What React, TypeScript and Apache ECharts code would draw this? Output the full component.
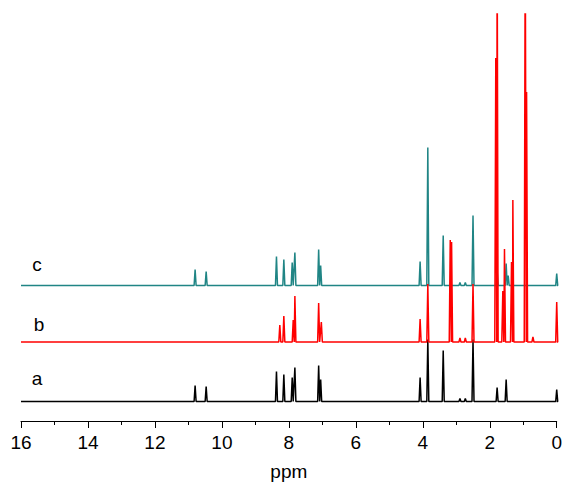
import React, { useEffect, useRef } from "react";
import * as echarts from "echarts";

// Spectrum labels and vertical offsets (intensity units)
const traceNames = ["a", "b", "c"];
const traceColors = ["#000000", "#ff0000", "#208585"];
const traceOffsets = [19.5, 79, 135.5];

// Trace a (black): peak positions (ppm) and heights
const ppmA = [10.8, 10.47, 8.37, 8.15, 7.9, 7.82, 7.11, 7.05, 4.08, 3.85, 3.39, 2.89, 2.73, 2.5, 1.78, 1.51, 0.0];
const intA = [16, 15, 30, 27, 24, 34, 36, 22, 24, 62, 51, 3, 3, 62, 14, 22, 12];

// Trace b (red)
const ppmB = [8.27, 8.15, 7.87, 7.82, 7.11, 7.03, 4.08, 3.85, 3.18, 3.14, 2.89, 2.73, 2.5, 1.82, 1.78, 1.61, 1.56, 1.35, 1.31, 0.94, 0.9, 0.71, 0.0];
const intB = [17, 26, 22, 46, 39, 20, 23, 58, 102, 100, 4, 4, 58, 284, 420, 51, 93, 80, 142, 420, 250, 5, 40];

// Trace c (teal)
const ppmC = [10.8, 10.47, 8.37, 8.15, 7.9, 7.82, 7.11, 7.05, 4.08, 3.85, 3.39, 2.89, 2.73, 2.5, 1.78, 1.51, 1.45, 0.0];
const intC = [16, 14, 29, 26, 23, 33, 36, 20, 24, 138, 50, 3, 3, 70, 15, 22, 10, 12];

// Axis ticks
const xMin = 0;
const xMax = 16;
const xInterval = 2;

const HALF_WIDTH = 0.03;

function buildTrace(ppm: number[], h: number[], offset: number): number[][] {
  const pts: number[][] = [[xMax, offset]];
  const order = ppm.map((_, i) => i).sort((i, j) => ppm[j] - ppm[i]);
  for (const i of order) {
    pts.push([ppm[i] + HALF_WIDTH, offset]);
    pts.push([ppm[i], offset + h[i]]);
    pts.push([ppm[i] - HALF_WIDTH, offset]);
  }
  pts.push([xMin, offset]);
  return pts;
}

export default function App() {
  const ref = useRef<HTMLDivElement>(null);
  useEffect(() => {
    if (!ref.current) return;
    const chart = echarts.init(ref.current, null, { renderer: "svg" });
    const traces = [
      buildTrace(ppmA, intA, traceOffsets[0]),
      buildTrace(ppmB, intB, traceOffsets[1]),
      buildTrace(ppmC, intC, traceOffsets[2]),
    ];
    const font = "'Liberation Sans', Arial, sans-serif";
    const labelPos = [
      [37, 378],
      [39, 324],
      [37, 264],
    ];
    chart.setOption({
      animation: false,
      backgroundColor: "#ffffff",
      grid: { left: 21, right: 6, top: 14, bottom: 67 },
      xAxis: {
        type: "value",
        min: xMin,
        max: xMax,
        interval: xInterval,
        inverse: true,
        name: "ppm",
        nameLocation: "middle",
        nameGap: 41,
        nameTextStyle: { fontSize: 19, color: "#000", fontFamily: font },
        axisLine: { show: true, lineStyle: { color: "#000", width: 1 } },
        axisTick: { show: true, length: 7, lineStyle: { color: "#000", width: 1 } },
        minorTick: { show: true, splitNumber: 2, length: 4, lineStyle: { color: "#000", width: 1 } },
        axisLabel: { fontSize: 19, color: "#000", fontFamily: font, margin: 12 },
        splitLine: { show: false },
      },
      yAxis: { type: "value", min: 0, max: 407, show: false },
      graphic: traceNames.map((n, i) => ({
        type: "text",
        x: labelPos[i][0],
        y: labelPos[i][1],
        style: {
          text: n,
          fontSize: 19,
          fontFamily: font,
          fill: "#000",
          align: "center",
          verticalAlign: "middle",
        },
      })),
      series: [0, 2, 1].map((i) => ({
        type: "line",
        name: traceNames[i],
        data: traces[i],
        showSymbol: false,
        clip: true,
        lineStyle: { color: traceColors[i], width: 1.5 },
        itemStyle: { color: traceColors[i] },
        z: 2,
      })),
    });
    return () => chart.dispose();
  }, []);
  return (
    <div
      ref={ref}
      style={{ position: "fixed", left: 0, top: 0, width: 565, height: 488 }}
    />
  );
}
